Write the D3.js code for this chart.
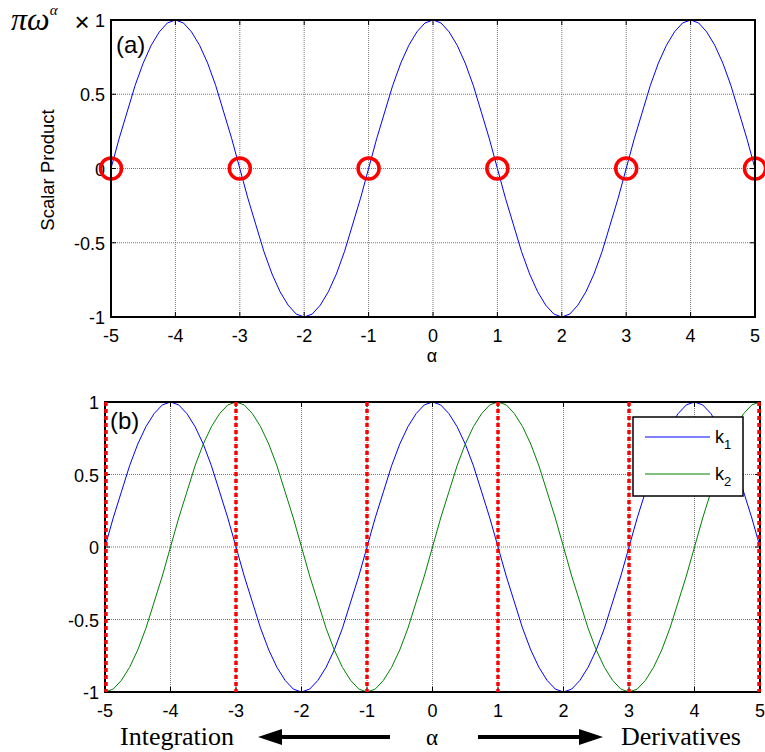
<!DOCTYPE html>
<html>
<head>
<meta charset="utf-8">
<script src="https://cdn.jsdelivr.net/npm/d3@7"></script>
<style>
  body { margin: 0; background: #fff; }
</style>
</head>
<body>
<div class="canva"></div>
<script>
const alpha = d3.range(-5, 5.0001, 0.125);
const k1 = [0, .2, .38, .56, .71, .83, .92, .98, 1, .98, .92, .83, .71, .56, .38, .2,
  0, -.2, -.38, -.56, -.71, -.83, -.92, -.98, -1, -.98, -.92, -.83, -.71, -.56, -.38, -.2,
  0, .2, .38, .56, .71, .83, .92, .98, 1, .98, .92, .83, .71, .56, .38, .2,
  0, -.2, -.38, -.56, -.71, -.83, -.92, -.98, -1, -.98, -.92, -.83, -.71, -.56, -.38, -.2,
  0, .2, .38, .56, .71, .83, .92, .98, 1, .98, .92, .83, .71, .56, .38, .2, 0];
const k2 = [-1, -.98, -.92, -.83, -.71, -.56, -.38, -.2, 0, .2, .38, .56, .71, .83, .92, .98,
  1, .98, .92, .83, .71, .56, .38, .2, 0, -.2, -.38, -.56, -.71, -.83, -.92, -.98,
  -1, -.98, -.92, -.83, -.71, -.56, -.38, -.2, 0, .2, .38, .56, .71, .83, .92, .98,
  1, .98, .92, .83, .71, .56, .38, .2, 0, -.2, -.38, -.56, -.71, -.83, -.92, -.98,
  -1, -.98, -.92, -.83, -.71, -.56, -.38, -.2, 0, .2, .38, .56, .71, .83, .92, .98, 1];
const zeros = [-5, -3, -1, 1, 3, 5];
const xTicks = [-5, -4, -3, -2, -1, 0, 1, 2, 3, 4, 5];
const yTicksA = [-1, -0.5, 0, 0.5, 1];
const yTicksB = [-1, -0.5, 0, 0.5, 1];

const sans = '"Liberation Sans", Arial, sans-serif';
const serif = '"Liberation Serif", "Times New Roman", serif';

const svg = d3.select('.canva').append('svg')
  .attr('width', 765)
  .attr('height', 752)
  .style('font-family', sans);

function panel(x0, x1, y0, y1, yTicks) {
  const x = d3.scaleLinear().domain([-5, 5]).range([x0, x1]);
  const y = d3.scaleLinear().domain([-1, 1]).range([y1, y0]);
  const g = svg.append('g');

  // grid
  g.selectAll('.gx').data(xTicks.slice(1, -1)).enter().append('line')
    .attr('x1', d => x(d)).attr('x2', d => x(d))
    .attr('y1', y0).attr('y2', y1)
    .attr('stroke', '#777').attr('stroke-width', 1).attr('stroke-dasharray', '1,1');
  g.selectAll('.gy').data(yTicks.slice(1, -1)).enter().append('line')
    .attr('x1', x0).attr('x2', x1)
    .attr('y1', d => y(d)).attr('y2', d => y(d))
    .attr('stroke', '#777').attr('stroke-width', 1).attr('stroke-dasharray', '1,1');

  // ticks inside
  g.selectAll('.tx').data(xTicks).enter().append('path')
    .attr('d', d => `M${x(d)},${y1}v-5M${x(d)},${y0}v5`)
    .attr('stroke', '#000').attr('stroke-width', 1);
  g.selectAll('.ty').data(yTicks).enter().append('path')
    .attr('d', d => `M${x0},${y(d)}h5M${x1},${y(d)}h-5`)
    .attr('stroke', '#000').attr('stroke-width', 1);

  // tick labels
  g.selectAll('.lx').data(xTicks).enter().append('text')
    .attr('x', d => x(d)).attr('y', y1 + 25)
    .attr('text-anchor', 'middle').attr('font-size', 18)
    .text(d => d);
  g.selectAll('.ly').data(yTicks).enter().append('text')
    .attr('x', x0 - 6).attr('y', d => y(d) + 7)
    .attr('text-anchor', 'end').attr('font-size', 18)
    .text(d => d);

  return { x, y, g, box: () => g.append('rect')
    .attr('x', x0).attr('y', y0).attr('width', x1 - x0).attr('height', y1 - y0)
    .attr('fill', 'none').attr('stroke', '#000').attr('stroke-width', 2) };
}

// ---- panel (a)
const a = panel(111, 755, 20, 317, yTicksA);
const line = d3.line().x((d, i) => a.x(alpha[i])).y(d => a.y(d));
a.g.append('path').datum(k1).attr('d', line)
  .attr('fill', 'none').attr('stroke', '#0000ff').attr('stroke-width', 1);
a.g.selectAll('.zc').data(zeros).enter().append('circle')
  .attr('cx', d => a.x(d)).attr('cy', a.y(0)).attr('r', 10.5)
  .attr('fill', 'none').attr('stroke', '#ff0000').attr('stroke-width', 3.5);
a.box();
a.g.append('text').attr('x', 116).attr('y', 53).attr('font-size', 24).text('(a)');
a.g.append('text').attr('x', 432).attr('y', 362).attr('text-anchor', 'middle')
  .attr('font-size', 18).text('α');
a.g.append('text').attr('transform', 'translate(54,170) rotate(-90)')
  .attr('text-anchor', 'middle').attr('font-size', 18.5).text('Scalar Product');
// multiplier: "πω^α ×" followed by the tick label 1
const pw = a.g.append('text').attr('x', 11).attr('y', 30);
pw.append('tspan').style('font-family', serif).attr('font-style', 'italic')
  .attr('font-size', 32).text('πω');
pw.append('tspan').style('font-family', serif).attr('font-style', 'italic')
  .attr('font-size', 15).attr('dy', -15).text('α');
a.g.append('text').attr('x', 82).attr('y', 31).attr('text-anchor', 'middle')
  .attr('font-size', 26).text('×');

// ---- panel (b)
const b = panel(105, 760, 402, 692, yTicksB);
const lineB = d3.line().x((d, i) => b.x(alpha[i])).y(d => b.y(d));
b.g.append('path').datum(k1).attr('d', lineB)
  .attr('fill', 'none').attr('stroke', '#0000ff').attr('stroke-width', 1);
b.g.append('path').datum(k2).attr('d', lineB)
  .attr('fill', 'none').attr('stroke', '#008000').attr('stroke-width', 1);
b.box();
b.g.selectAll('.zl').data(zeros).enter().append('line')
  .attr('x1', d => b.x(d) + (d === -5 ? 1 : d === 5 ? -1 : 0))
  .attr('x2', d => b.x(d) + (d === -5 ? 1 : d === 5 ? -1 : 0))
  .attr('y1', 402).attr('y2', 692)
  .attr('stroke', '#ff0000').attr('stroke-width', 3.5).attr('stroke-dasharray', '4,3');
b.g.append('text').attr('x', 110).attr('y', 429).attr('font-size', 24).text('(b)');

// legend
const lg = b.g.append('g');
lg.append('rect').attr('x', 633).attr('y', 417).attr('width', 110).attr('height', 79)
  .attr('fill', '#fff').attr('stroke', '#000').attr('stroke-width', 1.5);
const legend = [{ name: '1', c: '#0000ff', ly: 437 }, { name: '2', c: '#008000', ly: 474 }];
legend.forEach(l => {
  lg.append('line').attr('x1', 645).attr('x2', 710).attr('y1', l.ly).attr('y2', l.ly)
    .attr('stroke', l.c).attr('stroke-width', 1);
  const t = lg.append('text').attr('x', 715).attr('y', l.ly + 6).attr('font-size', 18);
  t.append('tspan').text('k');
  t.append('tspan').attr('font-size', 13).attr('dy', 6).text(l.name);
});

// bottom annotation: arrows drawn as shaft + head
function arrow(xTail, xTip, yy) {
  const dir = Math.sign(xTip - xTail);
  svg.append('line').attr('x1', xTail).attr('x2', xTip - dir * 20).attr('y1', yy).attr('y2', yy)
    .attr('stroke', '#000').attr('stroke-width', 4);
  svg.append('path')
    .attr('d', `M${xTip},${yy}L${xTip - dir * 24},${yy - 8}L${xTip - dir * 24},${yy + 8}Z`)
    .attr('fill', '#000');
}
arrow(390, 258, 737);
arrow(478, 603, 737);
svg.append('text').attr('x', 120).attr('y', 745).attr('font-size', 26)
  .style('font-family', serif).text('Integration');
svg.append('text').attr('x', 432).attr('y', 745).attr('font-size', 23).attr('text-anchor', 'middle')
  .style('font-family', serif).text('α');
svg.append('text').attr('x', 621).attr('y', 745).attr('font-size', 26)
  .style('font-family', serif).text('Derivatives');
</script>
</body>
</html>
